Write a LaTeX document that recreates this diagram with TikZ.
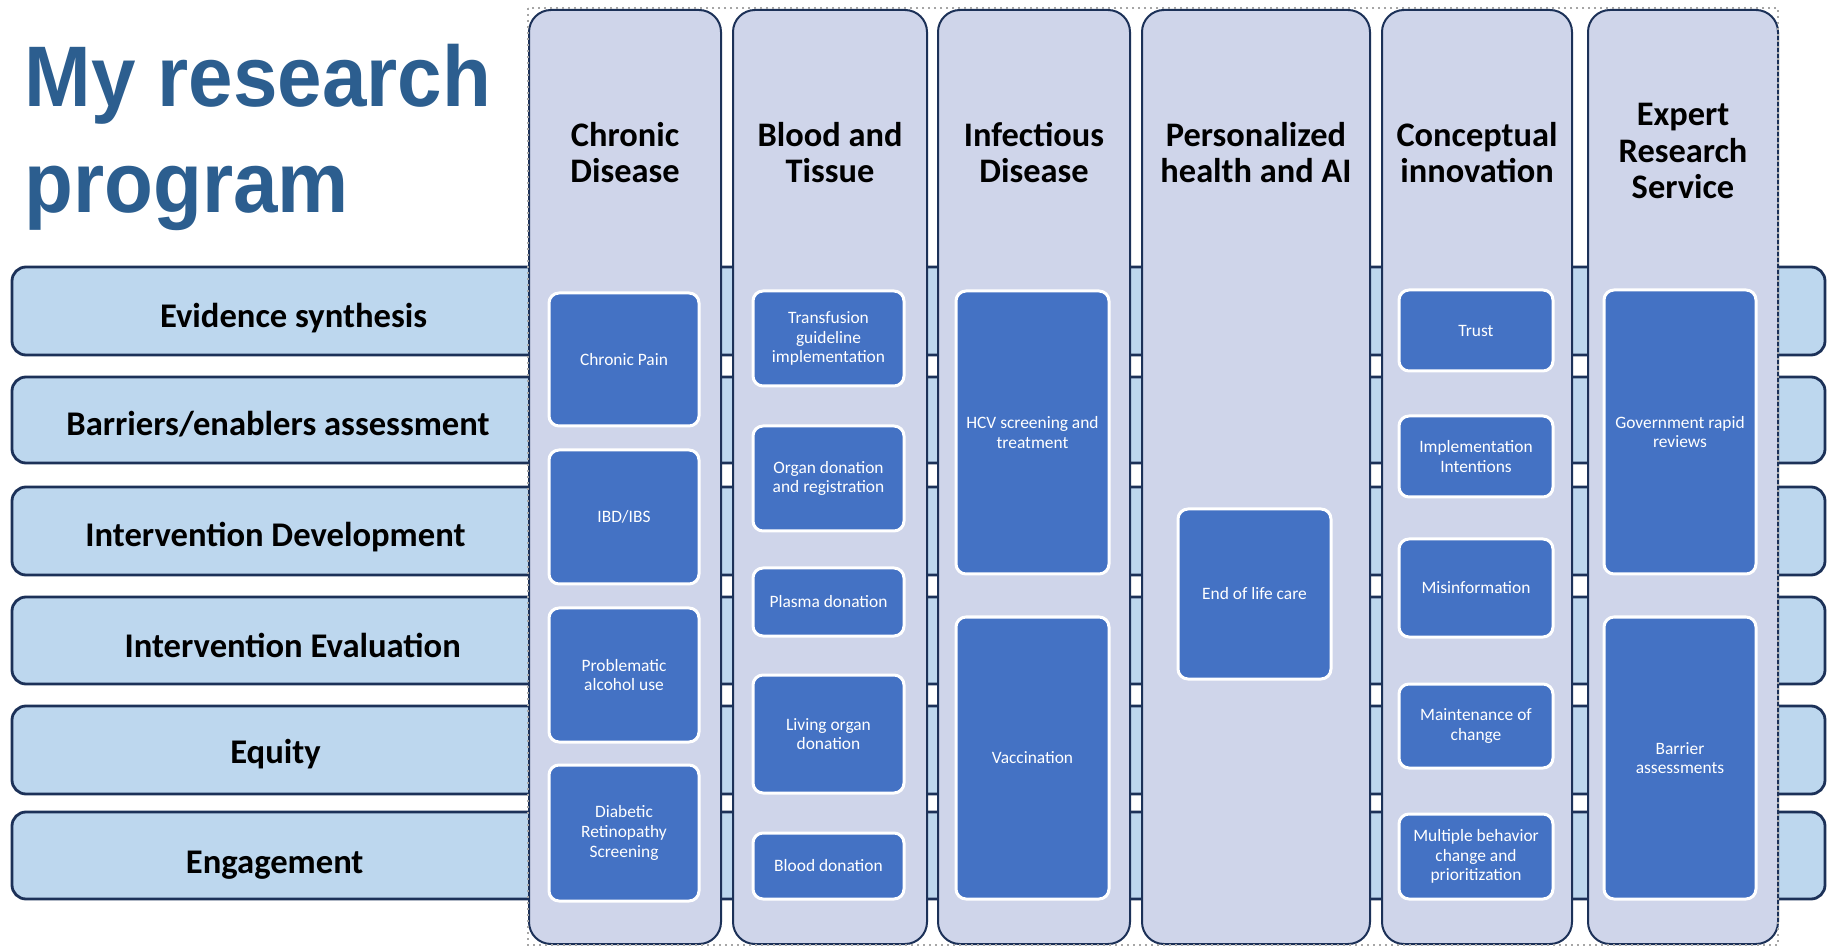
\documentclass[tikz,border=0pt]{standalone}
\usepackage{fontspec}
\setmainfont{Carlito}
\newfontfamily\titlefont{Liberation Sans}[FakeStretch=0.93]
\usetikzlibrary{fit}
\definecolor{titleblue}{HTML}{2C5E8F}
\definecolor{navy}{HTML}{1C3158}
\definecolor{barblue}{HTML}{BDD7EE}
\definecolor{colfill}{HTML}{CFD5EA}
\definecolor{cellblue}{HTML}{4472C4}
\begin{document}
\begin{tikzpicture}[x=0.5pt,y=-0.5pt,
  bar/.style={draw=navy, line width=1.4pt, fill=barblue, rounded corners=7pt, inner sep=0pt},
  col/.style={draw=navy, line width=1pt, fill=colfill, rounded corners=11pt, inner sep=0pt},
  cell/.style={draw=white, line width=1.5pt, fill=cellblue, rounded corners=5pt, inner sep=0pt},
  celltext/.style={text=white, font=\fontsize{8.7}{9.8}\selectfont, align=center, inner sep=0pt},
  rowlabel/.style={font=\fontsize{17.3}{20}\selectfont\bfseries, anchor=base, inner sep=0pt},
  colhead/.style={font=\fontsize{17.2}{18.4}\selectfont\bfseries, align=center, inner sep=0pt}]
\useasboundingbox (0,0) rectangle (1827,946);
\fill[white] (0,0) rectangle (1827,946);

% title
\node[anchor=north west, inner sep=0pt, text=titleblue, align=left,
  font=\titlefont\bfseries\fontsize{43}{53}\selectfont] (title) at (24,44) {My research\\program};

% horizontal activity bands
\node[bar, fit={(12,267) (1825,355)}] (r1) {};
\node[bar, fit={(12,377) (1825,463)}] (r2) {};
\node[bar, fit={(12,487) (1825,575)}] (r3) {};
\node[bar, fit={(12,597) (1825,684)}] (r4) {};
\node[bar, fit={(12,706) (1825,794)}] (r5) {};
\node[bar, fit={(12,812) (1825,899)}] (r6) {};

\node[rowlabel] (l1) at (293.6,328) {Evidence synthesis};
\node[rowlabel] (l2) at (278,436) {Barriers/enablers assessment};
\node[rowlabel] (l3) at (275.5,547) {Intervention Development};
\node[rowlabel] (l4) at (292.7,657) {Intervention Evaluation};
\node[rowlabel] (l5) at (275.5,763) {Equity};
\node[rowlabel] (l6) at (274.7,873) {Engagement};

% vertical theme columns
\node[col, fit={(529,10) (721,944)}] (c1) {};
\node[col, fit={(733,10) (927,944)}] (c2) {};
\node[col, fit={(938,10) (1130,944)}] (c3) {};
\node[col, fit={(1142,10) (1370,944)}] (c4) {};
\node[col, fit={(1382,10) (1572,944)}] (c5) {};
\node[col, fit={(1588,10) (1778,944)}] (c6) {};

\node[colhead] (h1) at (625,152.5) {Chronic\\Disease};
\node[colhead] (h2) at (830,152.5) {Blood and\\Tissue};
\node[colhead] (h3) at (1034,152.5) {Infectious\\Disease};
\node[colhead] (h4) at (1256,152.5) {Personalized\\health and AI};
\node[colhead] (h5) at (1477,152.5) {Conceptual\\innovation};
\node[colhead] (h6) at (1683,151) {Expert\\Research\\Service};

% chronic disease projects
\node[cell, fit={(549,293) (699,426)}] (cp) {};
\node[cell, fit={(549,450) (699,584)}] (ibd) {};
\node[cell, fit={(549,608) (699,742)}] (alc) {};
\node[cell, fit={(549,765) (699,901)}] (dr) {};
\node[celltext] (cpt) at (cp.center) {Chronic Pain};
\node[celltext] (ibdt) at (ibd.center) {IBD/IBS};
\node[celltext] (alct) at (alc.center) {Problematic\\alcohol use};
\node[celltext] (drt) at (dr.center) {Diabetic\\Retinopathy\\Screening};

% blood and tissue projects
\node[cell, fit={(753,291) (904,386)}] (tr) {};
\node[cell, fit={(753,426) (904,531)}] (od) {};
\node[cell, fit={(753,568) (904,636)}] (pd) {};
\node[cell, fit={(753,675) (904,793)}] (lo) {};
\node[cell, fit={(753,833) (904,899)}] (bd) {};
\node[celltext] (trt) at (tr.center) {Transfusion\\guideline\\implementation};
\node[celltext] (odt) at (od.center) {Organ donation\\and registration};
\node[celltext] (pdt) at (pd.center) {Plasma donation};
\node[celltext] (lot) at (lo.center) {Living organ\\donation};
\node[celltext] (bdt) at (bd.center) {Blood donation};

% infectious disease projects
\node[cell, fit={(956,291) (1109,574)}] (hcv) {};
\node[cell, fit={(956,617) (1109,899)}] (vac) {};
\node[celltext] (hcvt) at (hcv.center) {HCV screening and\\treatment};
\node[celltext] (vact) at (vac.center) {Vaccination};

% personalized health
\node[cell, fit={(1178,509) (1331,679)}] (eol) {};
\node[celltext] (eolt) at (eol.center) {End of life care};

% conceptual innovation
\node[cell, fit={(1399,290) (1553,371)}] (tru) {};
\node[cell, fit={(1399,416) (1553,497)}] (ii) {};
\node[cell, fit={(1399,539) (1553,637)}] (mis) {};
\node[cell, fit={(1399,684) (1553,768)}] (mc) {};
\node[cell, fit={(1399,814) (1553,899)}] (mb) {};
\node[celltext] (trut) at (tru.center) {Trust};
\node[celltext] (iit) at (ii.center) {Implementation\\Intentions};
\node[celltext] (mist) at (mis.center) {Misinformation};
\node[celltext] (mct) at (mc.center) {Maintenance of\\change};
\node[celltext] (mbt) at (mb.center) {Multiple behavior\\change and\\prioritization};

% expert research service
\node[cell, fit={(1604,290) (1756,574)}] (gov) {};
\node[cell, fit={(1604,617) (1756,899)}] (ba) {};
\node[celltext] (govt) at (gov.center) {Government rapid\\reviews};
\node[celltext] (bat) at (ba.center) {Barrier\\assessments};

% group frame
\draw[black!35, dotted, line width=1pt] (528,8) rectangle (1778,945);
\end{tikzpicture}
\end{document}
